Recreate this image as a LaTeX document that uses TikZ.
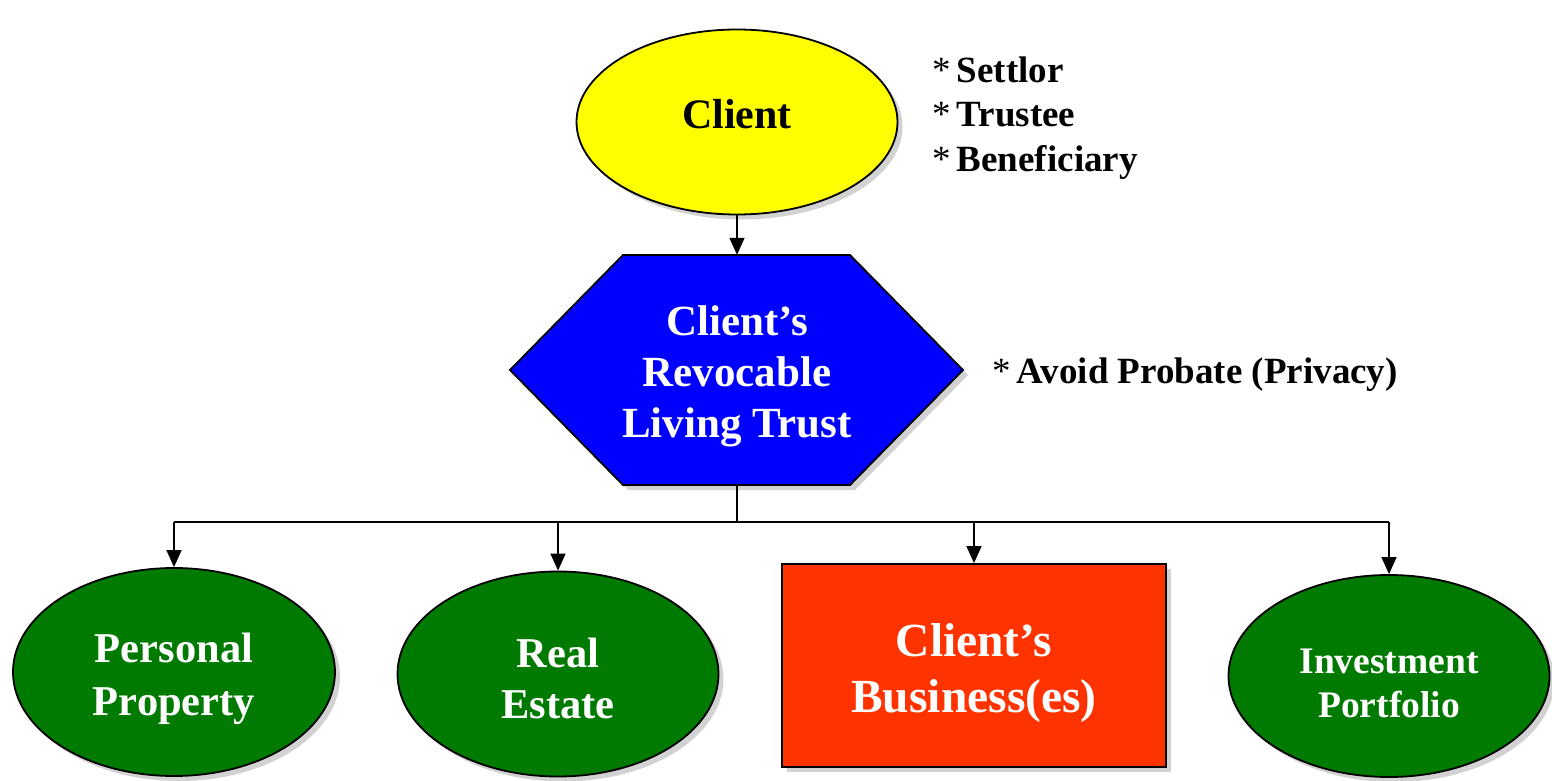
\documentclass[tikz,border=0pt]{standalone}
\usepackage{fontspec}
\setmainfont{Liberation Serif}
\usetikzlibrary{shapes.geometric,shadows,arrows.meta}
\definecolor{cyellow}{HTML}{FFFF00}
\definecolor{cblue}{HTML}{0000FF}
\definecolor{cgreen}{HTML}{007A00}
\definecolor{cred}{HTML}{FF3300}
\tikzset{
  shad/.style={drop shadow={shadow xshift=5pt,shadow yshift=-5pt,opacity=0.25,fill=black!70}},
  outl/.style={draw=black,line width=1.8pt},
  ellbox/.style={ellipse,outl,shad,inner sep=0pt},
  txt/.style={inner sep=0pt,align=center,text=white},
  lbl/.style={font=\fontsize{37}{44}\selectfont\bfseries,inner sep=0pt},
  arr/.style={draw=black,line width=1.5pt,-{Triangle[length=17pt,width=15pt]}},
  conn/.style={draw=black,line width=1.5pt}
}
\begin{document}
\begin{tikzpicture}[x=1pt,y=-1pt]
\useasboundingbox (0,0) rectangle (1552,781);
% Client
\node[ellbox,fill=cyellow,minimum width=321pt,minimum height=185pt] (client) at (737,122) {};
\node[txt,text=black,font=\fontsize{42}{50}\selectfont\bfseries] (clientT) at (737,114) {Client};
% Trust hexagon
\path[outl,shad,fill=cblue] (623,255) -- (850,255) -- (963,370) -- (850,485)
  -- (623,485) -- (510,370) -- cycle;
\node[rectangle,inner sep=0pt,minimum width=453pt,minimum height=230pt] (trust) at (737,370) {};
\node[txt,font=\fontsize{43}{51}\selectfont\bfseries] (trustT) at (737,376.5)
  {Client’s\\Revocable\\Living Trust};
% Children
\node[ellbox,fill=cgreen,minimum width=322pt,minimum height=208pt] (pp) at (174,672) {};
\node[txt,font=\fontsize{42.5}{53}\selectfont\bfseries] (ppT) at (174,679) {Personal\\Property};
\node[ellbox,fill=cgreen,minimum width=321pt,minimum height=205pt] (re) at (558,674) {};
\node[txt,font=\fontsize{42.5}{51}\selectfont\bfseries] (reT) at (558,678) {Real\\Estate};
\node[rectangle,outl,shad,fill=cred,minimum width=384pt,minimum height=203pt,inner sep=0pt]
  (biz) at (974,665.5) {};
\node[txt,font=\fontsize{47.5}{56}\selectfont\bfseries] (bizT) at (974,673.5) {Client’s\\Business(es)};
\node[ellbox,fill=cgreen,minimum width=321pt,minimum height=202pt] (inv) at (1389,676) {};
\node[txt,font=\fontsize{37.5}{44}\selectfont\bfseries] (invT) at (1389,683) {Investment\\Portfolio};
% Labels
\node[lbl,anchor=base west] (s1) at (932,83) {\textmd{*}\,Settlor};
\node[lbl,anchor=base west] (s2) at (932,127) {\textmd{*}\,Trustee};
\node[lbl,anchor=base west] (s3) at (932,171) {\textmd{*}\,Beneficiary};
\node[lbl,anchor=base west] (ap) at (992,383) {\textmd{*}\,Avoid Probate (Privacy)};
% Connectors
\draw[arr] (client) -- (trust);
\coordinate (bus) at (737,522);
\draw[conn] (trust.south) -- (bus);
\draw[conn] (pp |- bus) -- (inv |- bus);
\draw[arr] (pp |- bus) -- (pp.north);
\draw[arr] (re |- bus) -- (re.north);
\draw[arr] (biz |- bus) -- (biz.north);
\draw[arr] (inv |- bus) -- (inv.north);
\end{tikzpicture}
\end{document}
